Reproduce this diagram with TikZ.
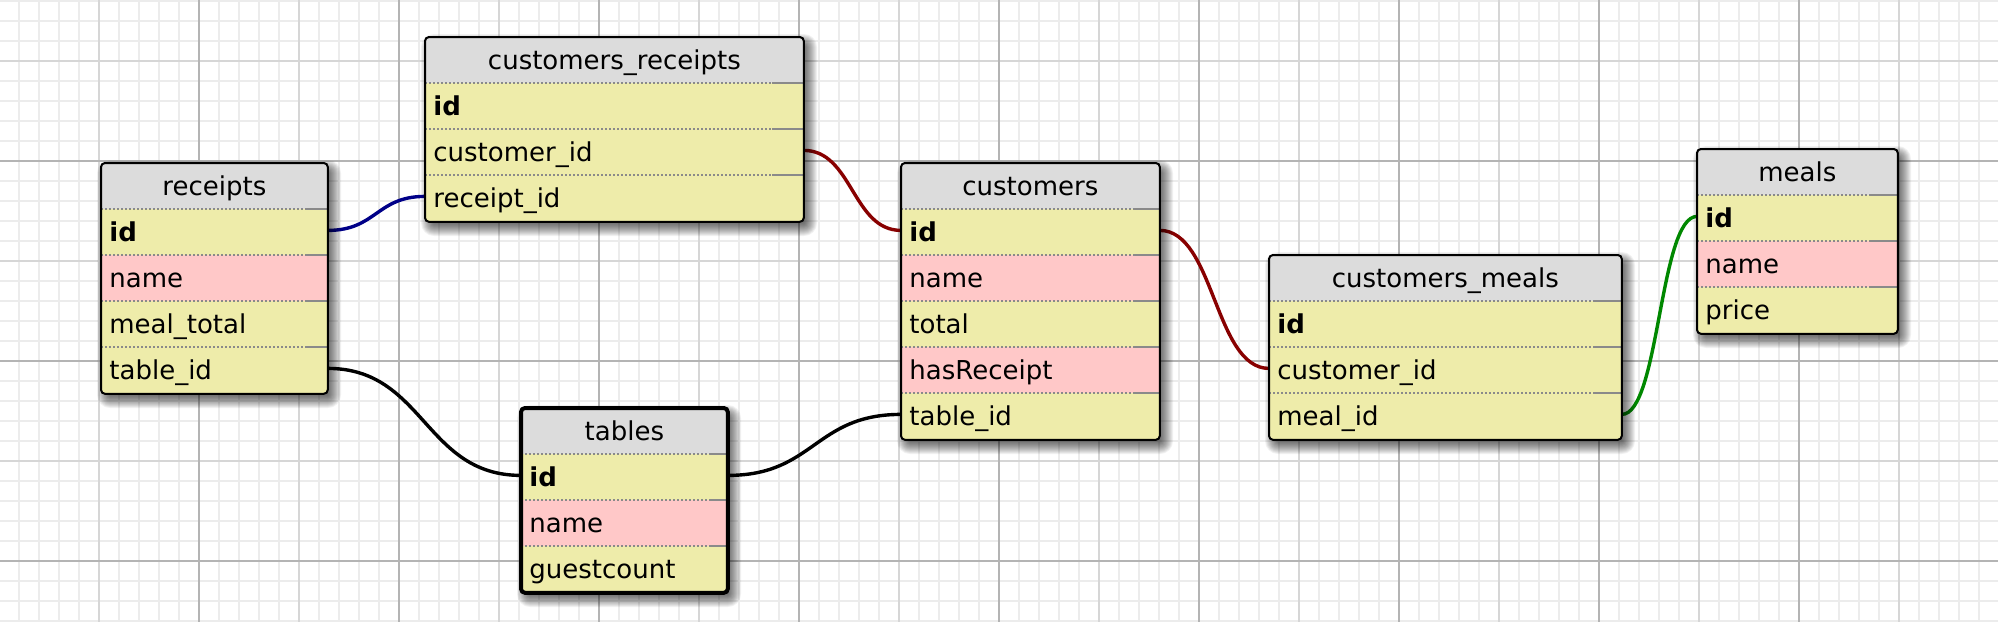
\documentclass[tikz,border=0pt]{standalone}
\usepackage{fontspec}
\setmainfont{DejaVu Sans}
\usetikzlibrary{calc}
\definecolor{gridfine}{HTML}{ECECEC}
\definecolor{gridmid}{HTML}{D6D6D6}
\definecolor{gridmajor}{HTML}{B4B4B4}
\definecolor{headgray}{HTML}{DCDCDC}
\definecolor{rowyellow}{HTML}{EEECAA}
\definecolor{rowpink}{HTML}{FFC8C8}
\definecolor{sepgray}{HTML}{8A8A8A}
\definecolor{linkblue}{HTML}{000088}
\definecolor{linkred}{HTML}{880000}
\definecolor{linkgreen}{HTML}{008800}
\pgfdeclarelayer{gridlayer}
\pgfdeclarelayer{linklayer}
\pgfsetlayers{gridlayer,linklayer,main}
\tikzset{
  tframe/.style={rectangle, rounded corners=2pt, fill=rowyellow, inner sep=0pt},
  shadowpiece/.style={fill=black, fill opacity=0.055},
  thead/.style={rectangle, fill=headgray, inner xsep=4pt, inner ysep=0pt, minimum height=23pt,
    text height=12pt, text depth=3pt, align=center, font=\fontsize{13pt}{15pt}\selectfont},
  trow/.style={rectangle, inner xsep=4pt, inner ysep=0pt, minimum height=23pt,
    text height=12pt, text depth=3pt, align=left, font=\fontsize{13pt}{15pt}\selectfont},
  sepdot/.style={draw=sepgray, line width=1pt, dash pattern=on 1pt off 1pt},
  sepsolid/.style={draw=sepgray, line width=1pt},
  link/.style={line width=1.7pt},
  gfine/.style={draw=gridfine, line width=0.8pt},
  gmid/.style={draw=gridmid, line width=0.9pt},
  gmajor/.style={draw=gridmajor, line width=0.9pt},
}
% #1 name, #2 left, #3 top, #4 width, #5 title, #6 solid length, #7 nrows, #8 border width, #9 rows
\newcommand\erdtable[9]{%
  \pgfmathsetmacro\tblw{#4*0.5}%
  \pgfmathsetmacro\tblh{46*(#7+1)*0.5}%
  \pgfmathsetmacro\txtw{(#4-16)*0.5}%
  \foreach \sr in {13,12,...,0}{%
    \pgfmathsetmacro\srr{max(1,\sr)*0.5}%
    \pgfmathsetmacro\sxa{#2+9-\sr}%
    \pgfmathsetmacro\sya{#3+10-\sr}%
    \pgfmathsetmacro\sxb{#2+#4+1+\sr}%
    \pgfmathsetmacro\syb{#3+46*(#7+1)+2+\sr}%
    \fill[shadowpiece, rounded corners=\srr pt] (\sxa,\sya) rectangle (\sxb,\syb);
  }
  \node[tframe, minimum width=\tblw pt, minimum height=\tblh pt, anchor=north west] (#1) at (#2,#3) {};
  \begin{scope}
    \clip[rounded corners=2pt] (#1.north west) rectangle (#1.south east);
    \node[thead, text width=\txtw pt, anchor=north west] (#1-head) at (#2,#3) {#5};
    \foreach \rkey/\rlab/\rcol [count=\rn] in {#9}{%
      \node[trow, fill=\rcol, text width=\txtw pt, anchor=north west] (#1-\rkey) at (#2,#3+46*\rn) {\rlab};
    }
  \end{scope}
  \foreach \rn in {1,...,#7}{%
    \draw[sepdot] (#2,#3+46*\rn) -- (#2+#4-#6,#3+46*\rn);
    \draw[sepsolid] (#2+#4-#6,#3+46*\rn) -- (#2+#4,#3+46*\rn);
  }
  \draw[line width=#8, rounded corners=2pt] (#1.north west) rectangle (#1.south east);
}
\newcommand\erdlink[3]{%
  \draw[link, #1] let \p1=([yshift=1pt]#2.east), \p2=([yshift=1pt]#3.west), \n1={(\x2-\x1)/2} in
    (\p1) .. controls +(\n1,0) and +(-\n1,0) .. (\p2);
}
\begin{document}
\begin{tikzpicture}[x=0.5pt,y=-0.5pt]
\useasboundingbox (0,0) rectangle (1998,622);
\begin{pgfonlayer}{gridlayer}
  \fill[white] (0,0) rectangle (1998,622);
  \foreach \gx in {19,39,...,1999} \draw[gfine] (\gx,0) -- (\gx,622);
  \foreach \gy in {1,21,...,621} \draw[gfine] (0,\gy) -- (1998,\gy);
  \foreach \gx in {99,299,...,1999} \draw[gmid] (\gx,0) -- (\gx,622);
  \foreach \gy in {61,261,461} \draw[gmid] (0,\gy) -- (1998,\gy);
  \foreach \gx in {199,399,...,1999} \draw[gmajor] (\gx,0) -- (\gx,622);
  \foreach \gy in {161,361,561} \draw[gmajor] (0,\gy) -- (1998,\gy);
\end{pgfonlayer}

\erdtable{receipts}{101}{163}{226}{receipts}{22}{4}{1pt}{%
  id/\textbf{id}/rowyellow, name/name/rowpink, mealtotal/meal\_total/rowyellow, tableid/table\_id/rowyellow}
\erdtable{custrec}{425}{37}{378}{customers\_receipts}{31}{3}{1pt}{%
  id/\textbf{id}/rowyellow, customerid/customer\_id/rowyellow, receiptid/receipt\_id/rowyellow}
\erdtable{tables}{521}{408}{206}{tables}{18}{3}{2pt}{%
  id/\textbf{id}/rowyellow, name/name/rowpink, guestcount/guestcount/rowyellow}
\erdtable{customers}{901}{163}{258}{customers}{25}{5}{1pt}{%
  id/\textbf{id}/rowyellow, name/name/rowpink, total/total/rowyellow, hasreceipt/hasReceipt/rowpink, tableid/table\_id/rowyellow}
\erdtable{custmeals}{1269}{255}{352}{customers\_meals}{28}{3}{1pt}{%
  id/\textbf{id}/rowyellow, customerid/customer\_id/rowyellow, mealid/meal\_id/rowyellow}
\erdtable{meals}{1697}{149}{200}{meals}{28}{3}{1pt}{%
  id/\textbf{id}/rowyellow, name/name/rowpink, price/price/rowyellow}

\begin{pgfonlayer}{linklayer}
  \erdlink{linkblue}{receipts-id}{custrec-receiptid}
  \erdlink{linkred}{custrec-customerid}{customers-id}
  \erdlink{linkred}{customers-id}{custmeals-customerid}
  \erdlink{linkgreen}{custmeals-mealid}{meals-id}
  \erdlink{black}{receipts-tableid}{tables-id}
  \erdlink{black}{tables-id}{customers-tableid}
\end{pgfonlayer}
\end{tikzpicture}
\end{document}
